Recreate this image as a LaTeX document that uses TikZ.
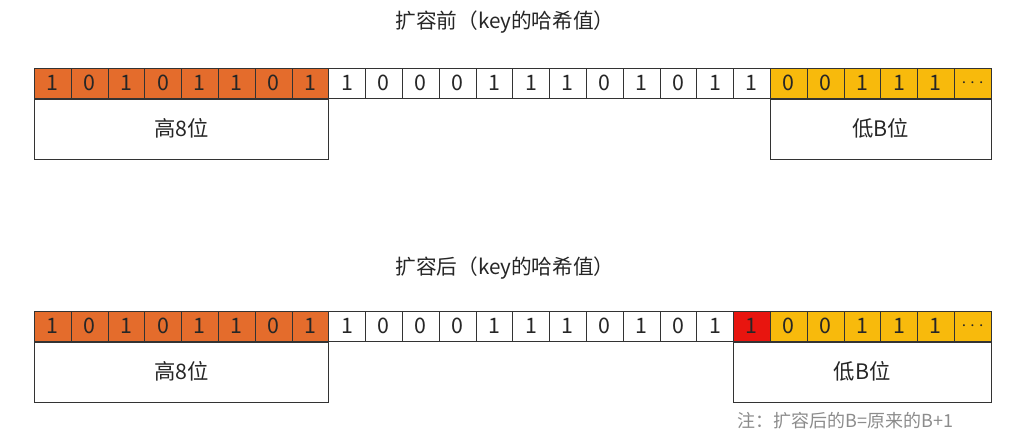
\documentclass[tikz,border=0pt]{standalone}
\usepackage{fontspec}
\setmainfont{Noto Sans CJK SC}
\usetikzlibrary{positioning}
\definecolor{hiorange}{HTML}{E46C2C}
\definecolor{loyellow}{HTML}{F8BA0C}
\definecolor{newred}{HTML}{E8150F}
\definecolor{notegray}{HTML}{8C8C8C}

\begin{document}
\begin{tikzpicture}[x=0.75pt, y=-0.75pt,
      every node/.append style={font=\fontsize{16}{18}\selectfont, text=black!85},
      bit/.style={draw=black!80, minimum width=27.6pt, minimum height=22.5pt, inner sep=0pt, anchor=north west},
      hi/.style={bit, fill=hiorange},
      mid/.style={bit, fill=white},
      lo/.style={bit, fill=loyellow},
      nb/.style={bit, fill=newred},
      part/.style={draw=black!80, minimum height=45pt, inner sep=0pt, anchor=north west},
      title/.style={font=\fontsize{15.5}{18}\selectfont}]

    \useasboundingbox (0,0) rectangle (1011,433);

    % ---------------- before growing ----------------
    \node[title] (a-title) at (505,22) {扩容前（key的哈希值）};
    \foreach \s/\b [count=\i from 0] in {hi/1, hi/0, hi/1, hi/0, hi/1, hi/1, hi/0, hi/1,
        mid/1, mid/0, mid/0, mid/0, mid/1, mid/1, mid/1, mid/0, mid/1, mid/0, mid/1, mid/1,
        lo/0, lo/0, lo/1, lo/1, lo/1, lo/{\fontsize{14}{14}\selectfont$\cdots$}}
      \node[\s] (a-\i) at ({34+36.8*\i},68) {\b};

    \node[part, minimum width=220.8pt] (a-hi) at (a-0.south west) {高8位};
    \node[part, minimum width=165.6pt] (a-lo) at (a-20.south west) {低B位};

    % ---------------- after growing ----------------
    \node[title] (b-title) at (505,268) {扩容后（key的哈希值）};
    \foreach \s/\b [count=\i from 0] in {hi/1, hi/0, hi/1, hi/0, hi/1, hi/1, hi/0, hi/1,
        mid/1, mid/0, mid/0, mid/0, mid/1, mid/1, mid/1, mid/0, mid/1, mid/0, mid/1, nb/1,
        lo/0, lo/0, lo/1, lo/1, lo/1, lo/{\fontsize{14}{14}\selectfont$\cdots$}}
      \node[\s] (b-\i) at ({34+36.8*\i},311) {\b};

    \node[part, minimum width=220.8pt] (b-hi) at (b-0.south west) {高8位};
    \node[part, minimum width=193.2pt] (b-lo) at (b-19.south west) {低B位};

    \node[font=\fontsize{13.5}{16}\selectfont, text=notegray, anchor=north west] (note) at ([yshift=-4pt]b-lo.south west) {注：扩容后的B=原来的B+1};
  \end{tikzpicture}
\end{document}
